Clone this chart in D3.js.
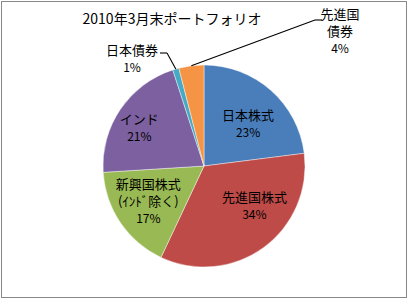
<!DOCTYPE html>
<html>
<head>
<meta charset="utf-8">
<script src="https://cdn.jsdelivr.net/npm/d3@7"></script>
<style>
  body { margin: 0; background: #fff; }
  text { font-family: "Noto Sans CJK JP", "Noto Sans", sans-serif; fill: #000; }
</style>
</head>
<body>
<svg id="chart" width="409" height="300"></svg>
<script>
// data
const title = '2010年3月末ポートフォリオ';
const categories = ['日本株式', '先進国株式', '新興国株式', 'インド', '日本債券', '先進国債券'];
const labelLines = [['日本株式'], ['先進国株式'], ['新興国株式', '(ｲﾝﾄﾞ除く)'], ['インド'], ['日本債券'], ['先進国', '債券']];
const values = [23, 34, 17, 21, 1, 4];
const colors = ['#4a7ebb', '#be4b48', '#98b954', '#7d60a0', '#46aac5', '#f69446'];

const svg = d3.select('#chart');
const cx = 204, cy = 166, r = 101;

// outer border
svg.append('rect')
  .attr('x', 1.5).attr('y', 1.5)
  .attr('width', 405).attr('height', 296)
  .attr('fill', 'none').attr('stroke', '#888').attr('stroke-width', 1);

svg.append('text')
  .attr('x', 172).attr('y', 24)
  .attr('text-anchor', 'middle')
  .attr('font-size', 14)
  .text(title);

const pie = d3.pie().sort(null).value(d => d)(values);
const arc = d3.arc().innerRadius(0).outerRadius(r);
const rim = d3.arc().innerRadius(r).outerRadius(r);
const g = svg.append('g').attr('transform', `translate(${cx},${cy})`);

g.selectAll('path.slice')
  .data(pie)
  .enter()
  .append('path')
  .attr('class', 'slice')
  .attr('d', arc)
  .attr('fill', (d, i) => colors[i])
  .attr('stroke', '#fff')
  .attr('stroke-width', 0.6)
  .attr('stroke-opacity', 0.7);

// small slices get their label outside, with a leader line from the rim
const outside = {
  4: { x: -72, y: -107.5, elbow: [[-37, -113], [-44, -113]] },
  5: { x: 136, y: -135, elbow: [[111, -146], [118, -146]] }
};

// leader segments drawn as thin filled quads
function segQuad(a, b, w) {
  const dx = b[0] - a[0], dy = b[1] - a[1];
  const len = Math.hypot(dx, dy) || 1;
  const nx = -dy / len * w / 2, ny = dx / len * w / 2;
  return 'M' + [[a[0] + nx, a[1] + ny], [b[0] + nx, b[1] + ny],
    [b[0] - nx, b[1] - ny], [a[0] - nx, a[1] - ny]]
    .map(p => p[0].toFixed(2) + ',' + p[1].toFixed(2)).join('L') + 'Z';
}

const segs = [];
pie.forEach(d => {
  const o = outside[d.index];
  if (!o) return;
  const pts = [rim.centroid(d)].concat(o.elbow);
  for (let k = 0; k < pts.length - 1; k++) segs.push([pts[k], pts[k + 1]]);
});

g.selectAll('path.leader')
  .data(segs)
  .enter()
  .append('path')
  .attr('class', 'leader')
  .attr('d', s => segQuad(s[0], s[1], 1.1))
  .attr('fill', '#000');

// the other labels sit inside at ~0.63r, nudged like Excel's best fit
const inner = d3.arc().innerRadius(r * 0.63).outerRadius(r * 0.63);
const nudge = [[2, 5], [13, -12], [-3, -1], [-12, -3]];

const lh = 17;
pie.forEach((d, i) => {
  const lines = labelLines[i].concat([values[i] + '%']);
  let x, y;
  if (outside[i]) {
    x = outside[i].x; y = outside[i].y;
  } else {
    const c = inner.centroid(d);
    x = c[0] + nudge[i][0]; y = c[1] + nudge[i][1];
  }
  const y0 = y - (lines.length - 1) * lh / 2;
  const t = svg.append('text').attr('text-anchor', 'middle');
  lines.forEach((s, k) => {
    t.append('tspan')
      .attr('x', cx + x)
      .attr('y', cy + y0 + k * lh + 5)
      .attr('font-size', k === lines.length - 1 ? 12 : 13)
      .text(s);
  });
});
</script>
</body>
</html>
